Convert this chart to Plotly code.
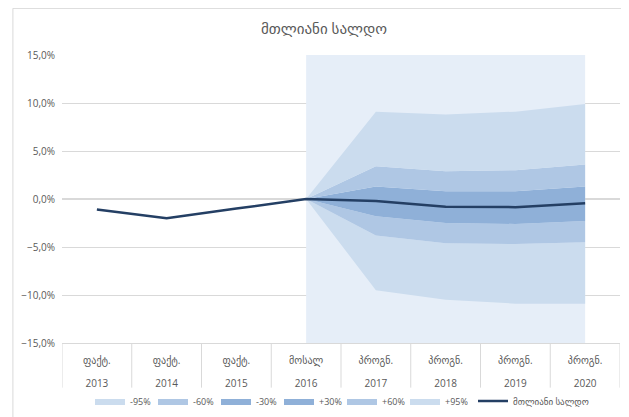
import plotly.graph_objects as go

# ---- data ----
years = ["2013", "2014", "2015", "2016", "2017", "2018", "2019", "2020"]
status = ["ფაქტ.", "ფაქტ.", "ფაქტ.", "მოსალ", "პროგნ.", "პროგნ.", "პროგნ.", "პროგნ."]
balance = [-1.1, -2.0, -1.0, 0.0, -0.2, -0.8, -0.85, -0.45]

fan_years = years[3:]
central = balance[3:]
lo95 = [0.0, -9.5, -10.5, -10.9, -10.9]
lo60 = [0.0, -3.8, -4.6, -4.7, -4.5]
lo30 = [0.0, -1.8, -2.5, -2.6, -2.3]
hi30 = [0.0, 1.3, 0.8, 0.8, 1.3]
hi60 = [0.0, 3.4, 2.9, 3.0, 3.6]
hi95 = [0.0, 9.1, 8.8, 9.1, 9.9]
forecast_floor = [-15, -15, -15, -15, -15]
forecast_ceiling = [15, 15, 15, 15, 15]

title = "მთლიანი სალდო"
series_name = "მთლიანი სალდო"

# ---- style ----
c_bg = "#e6eef8"
c95 = "#cbdcee"
c60 = "#afc7e4"
c30 = "#8fb0d8"
c_line = "#243f64"
grey = "#d9d9d9"
txt = "#595959"
FONT = "Open Sans, DejaVu Sans, sans-serif"

tick_text = [f"<span style='font-size:10px'>{s}</span><br><span style='font-size:10px'>{y}</span>"
             for s, y in zip(status, years)]

fig = go.Figure()
# forecast period background
fig.add_trace(go.Scatter(x=fan_years, y=forecast_floor, mode="lines", line=dict(width=0),
                         showlegend=False, hoverinfo="skip"))
fig.add_trace(go.Scatter(x=fan_years, y=forecast_ceiling, mode="lines", line=dict(width=0),
                         fill="tonexty", fillcolor=c_bg, showlegend=False, hoverinfo="skip"))
# fan
fig.add_trace(go.Scatter(x=fan_years, y=lo95, mode="lines", line=dict(width=0),
                         showlegend=False, hoverinfo="skip"))
for name, yv, col in [("-95%", lo60, c95), ("-60%", lo30, c60), ("-30%", central, c30),
                      ("+30%", hi30, c30), ("+60%", hi60, c60), ("+95%", hi95, c95)]:
    fig.add_trace(go.Scatter(x=fan_years, y=yv, name=name, mode="lines",
                             line=dict(width=0, color=col), fill="tonexty", fillcolor=col))
fig.add_trace(go.Scatter(x=years, y=balance, name=series_name, mode="lines",
                         line=dict(color=c_line, width=2.5), legend="legend2"))

# category divider lines below the axis
dividers = [dict(type="line", xref="x", yref="paper", x0=i - 0.5, x1=i - 0.5,
                 y0=0, y1=-0.155, line=dict(color=grey, width=1))
            for i in range(len(years) + 1)]

W, H = 621, 409
clear = "rgba(0,0,0,0)"
fig.update_layout(
    width=W, height=H,
    margin=dict(l=54, r=9, t=47, b=74, autoexpand=False),
    paper_bgcolor="white", plot_bgcolor="white",
    separators=",.",
    font=dict(family=FONT, size=10, color=txt),
    title=dict(text=title, x=316 / W, xref="container", y=1 - 21 / H, yref="container",
               xanchor="center", yanchor="middle",
               font=dict(family=FONT, size=15, color=txt)),
    legend=dict(orientation="h", x=82 / W, xanchor="left", xref="container",
                y=1 - 393 / H, yanchor="middle", yref="container", bgcolor=clear,
                font=dict(size=9, color=txt), itemwidth=30, traceorder="normal",
                entrywidth=18, entrywidthmode="pixels"),
    legend2=dict(orientation="h", x=465 / W, xanchor="left", xref="container",
                 y=1 - 393 / H, yanchor="middle", yref="container", bgcolor=clear,
                 font=dict(size=9, color=txt), itemwidth=30),
    shapes=[dict(type="rect", xref="paper", yref="paper", x0=-0.088, x1=1.1,
                 y0=-0.3, y1=1.162, line=dict(color=grey, width=1), layer="below")] + dividers,
)
fig.update_yaxes(range=[-15, 15], dtick=5, tickformat=".1f", ticksuffix="%",
                 showgrid=True, gridcolor=grey, gridwidth=1, zeroline=True,
                 zerolinecolor=grey, showline=False, ticks="", ticklabelstandoff=6,
                 automargin=False, tickfont=dict(size=10, color=txt))
fig.update_xaxes(type="category", categoryorder="array", categoryarray=years,
                 range=[-0.5, 7.5], tickmode="array",
                 tickvals=years, ticktext=tick_text, automargin=False,
                 showline=True, linecolor=grey, showgrid=False, ticks="",
                 tickfont=dict(size=17, color=txt))

fig.write_html("out.html")
